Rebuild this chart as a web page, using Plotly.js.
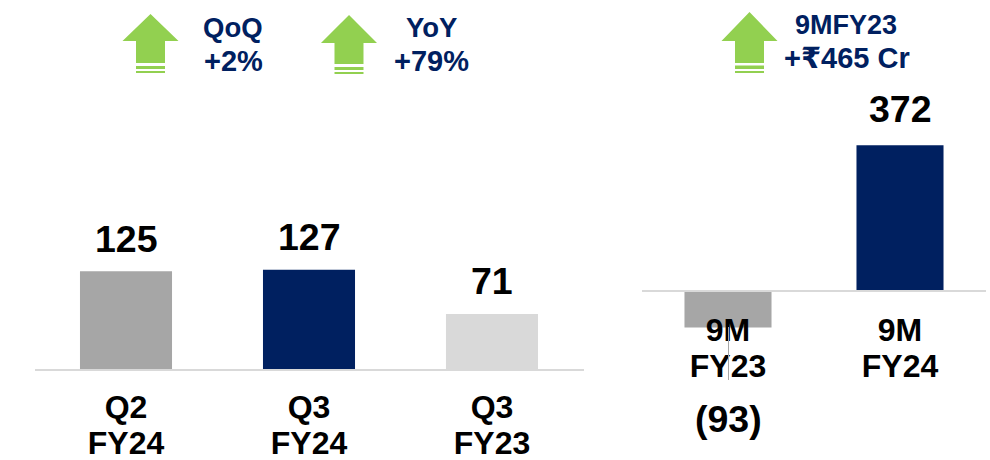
<!DOCTYPE html>
<html><head><meta charset="utf-8">
<script src="https://cdn.plot.ly/plotly-3.0.1.min.js"></script>
<style>html,body{margin:0;padding:0;background:#fff}#c{width:990px;height:460px}</style>
</head><body><div id="c"></div>
<script>
const qCategories = ["Q2<br>FY24", "Q3<br>FY24", "Q3<br>FY23"];
const qValues = [125, 127, 71];
const qColors = ["#A6A6A6", "#002060", "#D9D9D9"];
const nmCategories = ["9M<br>FY23", "9M<br>FY24"];
const nmValues = [-93, 372];
const nmColors = ["#A6A6A6", "#002060"];
const W = 990, H = 460;
const FONT = '"Liberation Sans", Arial, "DejaVu Sans", sans-serif';
const NAVY = "#002060", GREEN = "#92D050";

const px = x => x / W, py = y => 1 - y / H;

function arrow(cx, tip, wing, bodyEnd, s1a, s1b, s2a, s2b) {
  const toX = x => px(x).toFixed(5), toY = y => py(y).toFixed(5);
  const hw = 28, sw = 14.5;
  const P = pts => "M" + pts.map(p => toX(p[0]) + "," + toY(p[1])).join("L") + "Z";
  const rect = (a, b) => P([[cx - sw, a], [cx + sw, a], [cx + sw, b], [cx - sw, b]]);
  const head = P([[cx, tip], [cx + hw, wing], [cx + sw, wing], [cx + sw, bodyEnd], [cx - sw, bodyEnd], [cx - sw, wing], [cx - hw, wing]]);
  return [head, rect(s1a, s1b), rect(s2a, s2b)].map(path => ({
    type: "path", xref: "paper", yref: "paper", path, fillcolor: GREEN, line: {width: 0}, layer: "above"
  }));
}

const shapes = [
  ...arrow(150.5, 14, 41, 63, 66, 69, 71, 73),
  ...arrow(349, 15, 43, 64, 67, 70, 72, 74),
  ...arrow(749.5, 12, 41, 63, 65.5, 69, 71, 73),
  {type: "line", xref: "paper", yref: "paper", x0: px(728.5), x1: px(728.5), y0: py(327), y1: py(380),
   line: {color: "#A6A6A6", width: 1}, layer: "above"}
];

const head = (x, y, text, size) => ({
  xref: "paper", yref: "paper", x: px(x), y: py(y), xanchor: "center", yanchor: "middle", showarrow: false, text: "<b>" + text + "</b>",
  font: {family: FONT, size, color: NAVY}, align: "center"
});
const fmt = v => v < 0 ? "(" + Math.abs(v) + ")" : String(v);
const valueAnn = (xr, yr, x, y, yshift) => ({
  xref: xr, yref: yr, x, y, text: "<b>" + fmt(y) + "</b>", showarrow: false, yanchor: "middle", xanchor: "center", yshift,
  font: {family: FONT, size: 37.5, color: "#000"}
});

const annotations = [
  head(233, 28, "QoQ", 27.5), head(233, 61, "+2%", 29),
  head(431, 28, "YoY", 27.5), head(431, 61, "+79%", 29),
  head(846, 25, "9MFY23", 27), head(847, 58, "+₹465 Cr", 29),
  ...qCategories.map((c, i) => valueAnn("x", "y", i, qValues[i], [32, 33, 33][i])),
  ...nmCategories.map((c, i) => valueAnn("x2", "y2", i, nmValues[i], [-92, 36][i]))
];

const tickLabel = c => '<span style="font-size:32px">' + c.split("<br>").join('</span><br><span style="font-size:32px">') + "</span>";

const axisBase = {
  type: "category", showgrid: false, zeroline: false, showline: true, linecolor: "#D9D9D9", linewidth: 2,
  ticks: "", tickfont: {family: FONT, size: 28, color: "#000", weight: 700}, automargin: false, fixedrange: true
};

const traces = [
  {type: "bar", x: qCategories.map((c, i) => i), y: qValues, marker: {color: qColors, line: {width: 0}}, width: 0.503,
   xaxis: "x", yaxis: "y", hoverinfo: "skip"},
  {type: "bar", x: nmCategories.map((c, i) => i), y: nmValues, marker: {color: nmColors, line: {width: 0}}, width: 0.506,
   xaxis: "x2", yaxis: "y2", hoverinfo: "skip"}
];

const layout = {
  width: W, height: H, margin: {l: 0, r: 0, t: 0, b: 0}, paper_bgcolor: "#fff", plot_bgcolor: "rgba(0,0,0,0)",
  showlegend: false, shapes, annotations,
  xaxis: {...axisBase, domain: [px(34.5), px(583.5)], anchor: "free", position: py(370), range: [-0.5, 2.5],
          tickmode: "array", tickvals: [0, 1, 2], ticktext: qCategories.map(tickLabel), ticklabelstandoff: 13},
  yaxis: {domain: [0, 1], range: [-90 / 0.79, 370 / 0.79], visible: false, fixedrange: true},
  xaxis2: {...axisBase, domain: [px(642), px(986)], anchor: "free", position: py(291), range: [-0.5, 1.5],
           tickmode: "array", tickvals: [0, 1], ticktext: nmCategories.map(tickLabel), ticklabelstandoff: 15},
  yaxis2: {domain: [0, 1], range: [-169 / 0.392, 291 / 0.392], visible: false, fixedrange: true}
};
Plotly.newPlot("c", traces, layout, {displayModeBar: false, staticPlot: true});
</script></body></html>
